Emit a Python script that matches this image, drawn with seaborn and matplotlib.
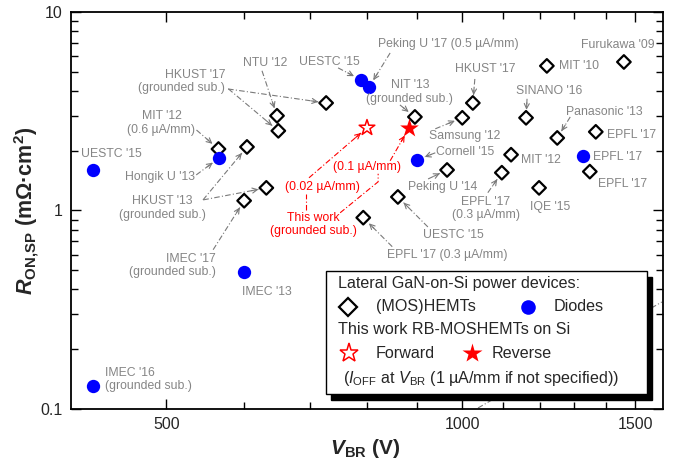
import matplotlib
matplotlib.use('Agg')

import numpy as np
import matplotlib.pyplot as plt
import seaborn as sns
from matplotlib.patches import Rectangle
from matplotlib.ticker import FixedLocator, FixedFormatter, NullFormatter

# (MOS)HEMTs: breakdown voltage (V) and specific on-resistance (mOhm.cm2)
hemt_vbr = [565, 604, 632, 600, 648, 650, 727, 895, 965, 860, 793,
            1000, 1025, 1121, 1097, 1161, 1219, 1197, 1249, 1367, 1348, 1460]
hemt_ron = [2.04, 2.09, 1.30, 1.12, 3.00, 2.52, 3.48, 2.96, 1.60, 1.17, 0.92,
            2.93, 3.48, 1.91, 1.55, 2.93, 5.35, 1.30, 2.32, 2.49, 1.57, 5.60]
# diodes
diode_vbr = [421, 566, 789, 804, 900, 1326, 600, 421]
diode_ron = [1.60, 1.84, 4.55, 4.19, 1.80, 1.89, 0.49, 0.131]
# this work
fwd_vbr, fwd_ron = [800], [2.61]
rev_vbr, rev_ron = [883], [2.61]

# labels: (index, text, dx, dy, ha)   offsets in pixels, dy downwards
hemt_labels = [
    (0, "MIT '12\n(0.6 µA/mm)", -57, -26, 'center'),
    (2, "HKUST '13\n(grounded sub.)", -104, 20, 'center'),
    (5, "HKUST '17\n(grounded sub.)", -53, -49, 'right'),
    (4, "NTU '12", -12, -53, 'center'),
    (7, "NIT '13\n(grounded sub.)", -5, -25, 'center'),
    (12, "HKUST '17", 12, -34, 'center'),
    (11, "Samsung '12", 2, 18, 'center'),
    (8, "Peking U '14", -4, 17, 'center'),
    (9, "UESTC '15", 55, 38, 'center'),
    (10, "EPFL '17 (0.3 µA/mm)", 84, 37, 'center'),
    (14, "EPFL '17\n(0.3 µA/mm)", -16, 36, 'center'),
    (13, "MIT '12", 30, 5, 'center'),
    (17, "IQE '15", 11, 19, 'center'),
    (15, "SINANO '16", 23, -27, 'center'),
    (16, "MIT '10", 32, 0, 'center'),
    (18, "Panasonic '13", 47, -26, 'center'),
    (19, "EPFL '17", 36, 3, 'center'),
    (20, "EPFL '17", 33, 12, 'center'),
    (21, "Furukawa '09", -6, -17, 'center'),
    (3, "IMEC '17\n(grounded sub.)", -28, 65, 'right'),
]
diode_labels = [
    (0, "UESTC '15", 19, -16, 'center'),
    (1, "Hongik U '13", -59, 19, 'center'),
    (2, "UESTC '15", -32, -18, 'center'),
    (3, "Peking U '17 (0.5 µA/mm)", 79, -43, 'center'),
    (4, "Cornell '15", 48, -8, 'center'),
    (5, "EPFL '17", 35, 1, 'center'),
    (6, "IMEC '13", 23, 20, 'center'),
    (7, "IMEC '16\n(grounded sub.)", 12, -6, 'left'),
]
# arrows: (index, start dx, start dy) -> point at the marker
hemt_arrows = [(0, -22, -19), (1, -44, 53), (2, -63, 12), (5, -50, -42),
               (6, -98, -14), (4, -15, -45), (7, -15, -12), (12, 2, -24),
               (11, -27, 11), (8, -19, 9), (9, 30, 30), (10, 29, 29),
               (14, -14, 20), (15, 1, -19), (18, 13, -21), (3, -31, 49)]
diode_arrows = [(1, -23, 17), (2, -23, -12), (3, 21, -34), (4, 18, -7)]

sns.set_style('ticks')
plt.rcParams['font.family'] = ['Liberation Sans', 'DejaVu Sans']
plt.rcParams['mathtext.fontset'] = 'custom'
plt.rcParams['mathtext.rm'] = 'Liberation Sans'
plt.rcParams['mathtext.it'] = 'Liberation Sans:italic'
plt.rcParams['mathtext.bf'] = 'Liberation Sans:bold'
plt.rcParams['mathtext.bfit'] = 'Liberation Sans:italic:bold'

gray = '#858585'
agray = '#7a7a7a'

fig = plt.figure(figsize=(6.8, 4.68), dpi=100)
ax = fig.add_axes([0.1044, 0.1261, 0.8706, 0.8483])
ax.set_xscale('log')
ax.set_yscale('log')
ax.set_xlim(400, 1600)
ax.set_ylim(0.1, 10)

sns.scatterplot(x=hemt_vbr, y=hemt_ron, marker='D', s=48, facecolor='none',
                edgecolor='black', linewidth=1.6, ax=ax, zorder=3)
sns.scatterplot(x=diode_vbr, y=diode_ron, marker='o', s=92, color='#0000ff',
                linewidth=0, ax=ax, zorder=3)
sns.scatterplot(x=fwd_vbr, y=fwd_ron, marker='*', s=140, facecolor='none',
                edgecolor='red', linewidth=1.1, ax=ax, zorder=3)
sns.scatterplot(x=rev_vbr, y=rev_ron, marker='*', s=200, color='red',
                linewidth=0, ax=ax, zorder=3)


def shift(x, y, dx, dy):
    px, py = ax.transData.transform((x, y))
    return ax.transData.inverted().transform((px + dx, py - dy))


def arrow(x, y, sx, sy, color, shrink=8):
    # dash-dot line from an offset point to the marker, with an open head
    px, py = ax.transData.transform((x, y))
    vx, vy = sx, -sy
    n = np.hypot(vx, vy)
    ex, ey = px + vx / n * shrink, py + vy / n * shrink
    hx, hy = ex + vx / n * 7, ey + vy / n * 7
    inv = ax.transData.inverted()
    s = inv.transform((px + vx, py + vy))
    e = inv.transform((ex, ey))
    h = inv.transform((hx, hy))
    ax.plot([s[0], e[0]], [s[1], e[1]], color=color, lw=0.8,
            ls=(0, (5, 2, 1, 2)), zorder=2)
    ax.annotate('', xy=e, xytext=h,
                arrowprops=dict(arrowstyle='->', color=color, lw=0.8,
                                shrinkA=0, shrinkB=0, mutation_scale=9))


def seg(x, y, pts, color):
    xy = [shift(x, y, dx, dy) for dx, dy in pts]
    ax.plot([p[0] for p in xy], [p[1] for p in xy], color=color, lw=0.8,
            ls=(0, (5, 2, 1, 2)), zorder=2)


for i, txt, dx, dy, ha in hemt_labels:
    ax.annotate(txt, xy=(hemt_vbr[i], hemt_ron[i]), xytext=(dx, -dy),
                textcoords='offset pixels', ha=ha, va='center',
                multialignment=ha, fontsize=8.8, color=gray, linespacing=1.15)
for i, txt, dx, dy, ha in diode_labels:
    ax.annotate(txt, xy=(diode_vbr[i], diode_ron[i]), xytext=(dx, -dy),
                textcoords='offset pixels', ha=ha, va='center',
                multialignment=ha, fontsize=8.8, color=gray, linespacing=1.15)
for i, sx, sy in hemt_arrows:
    arrow(hemt_vbr[i], hemt_ron[i], sx, sy, agray)
for i, sx, sy in diode_arrows:
    arrow(diode_vbr[i], diode_ron[i], sx, sy, agray)

# this work annotations
f = (fwd_vbr[0], fwd_ron[0])
r = (rev_vbr[0], rev_ron[0])
ax.annotate("(0.02 µA/mm)", xy=f, xytext=(-45, -59), textcoords='offset pixels',
            ha='center', va='center', fontsize=8.8, color='red')
ax.annotate("(0.1 µA/mm)", xy=r, xytext=(-42, -39), textcoords='offset pixels',
            ha='center', va='center', fontsize=8.8, color='red')
ax.annotate("This work\n(grounded sub.)", xy=f, xytext=(-54, -97),
            textcoords='offset pixels', ha='center', va='center',
            fontsize=8.8, color='red', linespacing=1.15)
arrow(f[0], f[1], -58, 50, 'red')
arrow(r[0], r[1], -19, 33, 'red', shrink=9)
seg(f[0], f[1], [(-61, 82), (-61, 66)], 'red')
seg(r[0], r[1], [(-69, 85), (-31, 54), (-31, 46)], 'red')

# arrow hidden behind the legend box
ax.plot([0.6875, 0.998], [0.0025, 0.2695], transform=ax.transAxes,
        color=agray, lw=0.8, ls=(0, (5, 2, 1, 2)), zorder=2)

# ticks
ax.xaxis.set_major_locator(FixedLocator([500, 1000, 1500]))
ax.xaxis.set_major_formatter(FixedFormatter(['500', '1000', '1500']))
ax.xaxis.set_minor_locator(FixedLocator([600, 700, 800, 900, 1100, 1200, 1300, 1400]))
ax.xaxis.set_minor_formatter(NullFormatter())
ax.yaxis.set_major_locator(FixedLocator([0.1, 1, 10]))
ax.yaxis.set_major_formatter(FixedFormatter(['0.1', '1', '10']))
ax.yaxis.set_minor_locator(FixedLocator([k * d for d in (0.1, 1) for k in range(2, 10)]))
ax.yaxis.set_minor_formatter(NullFormatter())
ax.tick_params(which='both', direction='in', top=True, right=True,
               color='black', width=1.0)
ax.tick_params(which='major', length=7, labelsize=11.5, pad=6)
ax.tick_params(which='minor', length=5)
for sp in ax.spines.values():
    sp.set_linewidth(1.3)
    sp.set_color('black')

ax.set_xlabel(r"$\mathbfit{V}_{\mathbf{BR}}$ (V)", fontsize=15, fontweight='bold')
ax.set_ylabel(r"$\mathbfit{R}_{\mathbf{ON{,}SP}}$ (mΩ·cm$^{\mathbf{2}}$)",
              fontsize=15.5, fontweight='bold')
ax.xaxis.set_label_coords(0.497, -0.07)
ax.yaxis.set_label_coords(-0.05, 0.5)

# legend box, drawn by hand
bx0, by0, bx1, by1 = 0.4307, 0.0378, 0.973, 0.3476
ax.add_patch(Rectangle((bx0 + 0.0084, by0 - 0.0151), bx1 - bx0, by1 - by0,
                       transform=ax.transAxes, facecolor='black',
                       edgecolor='black', zorder=9, clip_on=False))
ax.add_patch(Rectangle((bx0, by0), bx1 - bx0, by1 - by0, transform=ax.transAxes,
                       facecolor='white', edgecolor='black', lw=1.0, zorder=10))
lkw = dict(transform=ax.transAxes, fontsize=11.6, va='center', ha='left', zorder=11)
ax.text(0.451, 0.3149, "Lateral GaN-on-Si power devices:", **lkw)
ax.text(0.515, 0.257, "(MOS)HEMTs", **lkw)
ax.text(0.816, 0.257, "Diodes", **lkw)
ax.text(0.451, 0.199, "This work RB-MOSHEMTs on Si", **lkw)
ax.text(0.515, 0.141, "Forward", **lkw)
ax.text(0.711, 0.141, "Reverse", **lkw)
ax.text(0.459, 0.0756,
        r"($\mathit{I}_{\mathrm{OFF}}$ at $\mathit{V}_{\mathrm{BR}}$ (1 µA/mm if not specified))",
        **lkw)
mkw = dict(transform=ax.transAxes, zorder=11, clip_on=False, ls='none')
ax.plot([0.468], [0.257], marker='D', ms=9, mfc='none', mec='black', mew=1.6, **mkw)
ax.plot([0.772], [0.257], marker='o', ms=10.5, mfc='#0000ff', mec='none', **mkw)
ax.plot([0.4696], [0.141], marker='*', ms=14, mfc='none', mec='red', mew=1.1, **mkw)
ax.plot([0.677], [0.141], marker='*', ms=15, mfc='red', mec='none', **mkw)

fig.savefig('out.png', dpi=100)
